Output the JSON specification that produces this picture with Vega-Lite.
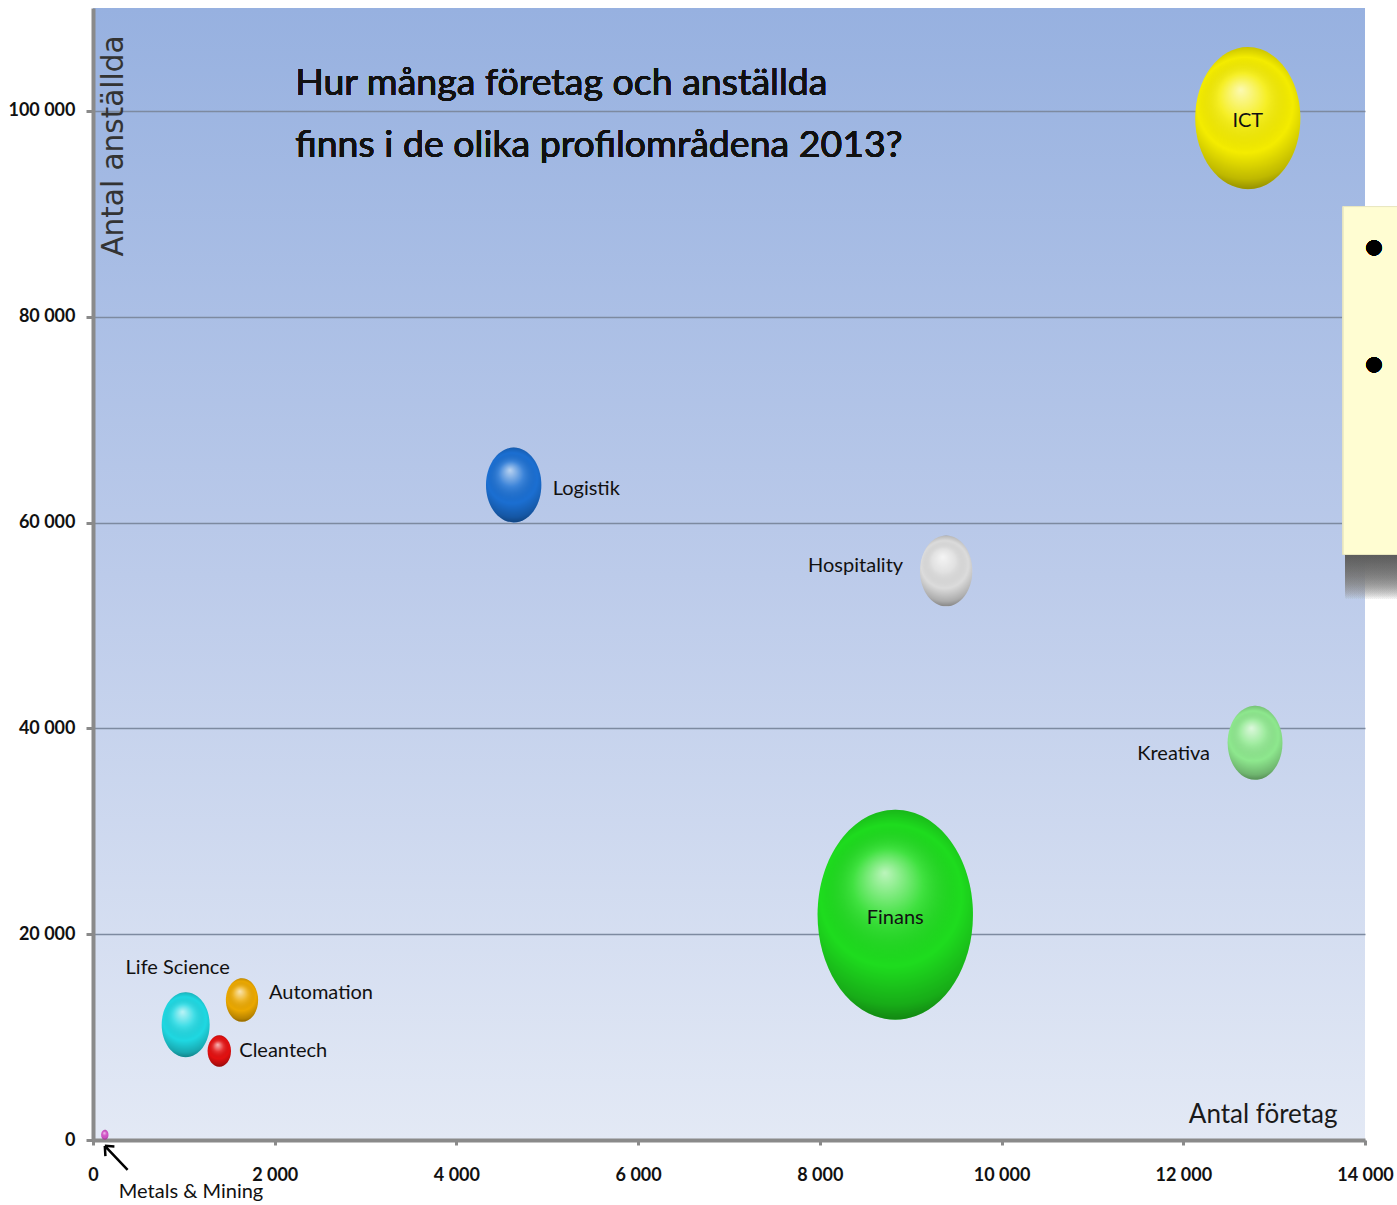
{
  "$schema": "https://vega.github.io/schema/vega-lite/v6.json",
  "width": 1272,
  "height": 1132,
  "autosize": "none",
  "padding": {"left": 93, "top": 8, "right": 32, "bottom": 65},
  "background": "white",
  "config": {
    "view": {
      "stroke": null,
      "fill": {
        "gradient": "linear",
        "x1": 0, "y1": 0, "x2": 0, "y2": 1,
        "stops": [
          {"offset": 0, "color": "#97b1e0"},
          {"offset": 0.5, "color": "#bccbea"},
          {"offset": 1, "color": "#e3e9f5"}
        ]
      }
    },
    "font": "Lato"
  },
  "data": {
    "values": [
      {"omrade": "ICT", "foretag": 12710, "anstallda": 99300, "storlek": 202},
      {"omrade": "Logistik", "foretag": 4630, "anstallda": 63650, "storlek": 56},
      {"omrade": "Hospitality", "foretag": 9390, "anstallda": 55300, "storlek": 50},
      {"omrade": "Kreativa", "foretag": 12790, "anstallda": 38600, "storlek": 55},
      {"omrade": "Finans", "foretag": 8830, "anstallda": 21900, "storlek": 441},
      {"omrade": "Life Science", "foretag": 1020, "anstallda": 11200, "storlek": 42},
      {"omrade": "Automation", "foretag": 1640, "anstallda": 13600, "storlek": 19},
      {"omrade": "Cleantech", "foretag": 1390, "anstallda": 8650, "storlek": 10},
      {"omrade": "Metals & Mining", "foretag": 130, "anstallda": 500, "storlek": 1}
    ]
  },
  "encoding": {
    "x": {
      "field": "foretag", "type": "quantitative",
      "scale": {"domain": [0, 14000], "nice": false, "zero": true},
      "axis": {
        "values": [0, 2000, 4000, 6000, 8000, 10000, 12000, 14000],
        "labelExpr": "replace(format(datum.value, ','), ',', ' ')",
        "grid": false,
        "domainColor": "#8a8a8a", "domainWidth": 4,
        "tickColor": "#8a8a8a", "tickWidth": 3, "tickSize": 5,
        "labelFont": "Lato", "labelFontSize": 18, "labelFontWeight": "bold",
        "labelColor": "#111111", "labelPadding": 21, "labelFlush": false,
        "title": "Antal företag",
        "titleFont": "Lato", "titleFontSize": 26, "titleFontWeight": "normal",
        "titleColor": "#1a1a1a", "titleAlign": "right", "titleBaseline": "alphabetic",
        "titleX": 1244, "titleY": -18
      }
    },
    "y": {
      "field": "anstallda", "type": "quantitative",
      "scale": {"domain": [0, 110000], "nice": false, "zero": true},
      "axis": {
        "values": [0, 20000, 40000, 60000, 80000, 100000],
        "labelExpr": "replace(format(datum.value, ','), ',', ' ')",
        "grid": true, "gridColor": "#7d8aa0", "gridWidth": 1.5,
        "domainColor": "#8a8a8a", "domainWidth": 4,
        "tickColor": "#8a8a8a", "tickWidth": 3, "tickSize": 7,
        "labelFont": "Lato", "labelFontSize": 18, "labelFontWeight": "bold",
        "labelColor": "#111111", "labelPadding": 11,
        "title": "Antal anställda",
        "titleFont": "DejaVu Sans", "titleFontSize": 29.5, "titleFontWeight": "normal",
        "titleColor": "#333333", "titleAngle": -90, "titleAlign": "right", "titleBaseline": "middle",
        "titleX": 20, "titleY": 27
      }
    }
  },
  "layer": [
    {
      "mark": {"type": "text", "font": "Lato", "fontSize": 37.5, "align": "left", "baseline": "alphabetic", "lineHeight": 62, "color": "#111111"},
      "encoding": {
        "x": {"datum": 2225, "type": "quantitative"},
        "y": {"datum": 101500, "type": "quantitative"},
        "text": {"value": ["Hur många företag och anställda", "finns i de olika profilområdena 2013?"]}
      }
    },
    {
      "mark": {
        "type": "point", "filled": true, "opacity": 1,
        "shape": "M -0.74 0 A 0.74 1 0 1 0 0.74 0 A 0.74 1 0 1 0 -0.74 0 Z"
      },
      "encoding": {
        "size": {"field": "storlek", "type": "quantitative", "scale": {"type": "linear", "domain": [0, 441], "range": [0, 44100], "zero": true}, "legend": null},
        "color": {
          "field": "omrade", "type": "nominal", "legend": null,
          "scale": {
            "domain": ["ICT", "Logistik", "Hospitality", "Kreativa", "Finans", "Life Science", "Automation", "Cleantech", "Metals & Mining"],
            "range": ["#f4ec00", "#1b6fd2", "#dcdcdc", "#8ee88e", "#1edc1e", "#1fd8e2", "#eba800", "#e31010", "#d453c8"]
          }
        }
      }
    },
    {
      "mark": {
        "type": "point", "filled": true, "opacity": 1,
        "shape": "M -0.74 0 A 0.74 1 0 1 0 0.74 0 A 0.74 1 0 1 0 -0.74 0 Z",
        "fill": {
          "gradient": "radial",
          "x1": 0.45, "y1": 0.3, "r1": 0,
          "x2": 0.5, "y2": 0.48, "r2": 0.56,
          "stops": [
            {"offset": 0, "color": "rgba(255,255,255,0.7)"},
            {"offset": 0.3, "color": "rgba(255,255,255,0.15)"},
            {"offset": 0.6, "color": "rgba(0,0,0,0)"},
            {"offset": 0.85, "color": "rgba(0,0,0,0.22)"},
            {"offset": 1, "color": "rgba(0,0,0,0.48)"}
          ]
        }
      },
      "encoding": {
        "size": {"field": "storlek", "type": "quantitative", "legend": null}
      }
    },
    {
      "transform": [{"filter": "datum.omrade === 'ICT' || datum.omrade === 'Finans'"}],
      "mark": {"type": "text", "fontSize": 20, "align": "center", "baseline": "middle", "dy": 3, "color": "#111111"},
      "encoding": {"text": {"field": "omrade"}}
    },
    {
      "transform": [{"filter": "datum.omrade === 'Logistik'"}],
      "mark": {"type": "text", "fontSize": 20, "align": "left", "baseline": "middle", "dx": 39, "dy": 4, "color": "#111111"},
      "encoding": {"text": {"field": "omrade"}}
    },
    {
      "transform": [{"filter": "datum.omrade === 'Automation'"}],
      "mark": {"type": "text", "fontSize": 20, "align": "left", "baseline": "middle", "dx": 27, "dy": -7, "color": "#111111"},
      "encoding": {"text": {"field": "omrade"}}
    },
    {
      "transform": [{"filter": "datum.omrade === 'Cleantech'"}],
      "mark": {"type": "text", "fontSize": 20, "align": "left", "baseline": "middle", "dx": 20, "dy": 0, "color": "#111111"},
      "encoding": {"text": {"field": "omrade"}}
    },
    {
      "transform": [{"filter": "datum.omrade === 'Hospitality'"}],
      "mark": {"type": "text", "fontSize": 20, "align": "right", "baseline": "middle", "dx": -43, "dy": -5, "color": "#111111"},
      "encoding": {"text": {"field": "omrade"}}
    },
    {
      "transform": [{"filter": "datum.omrade === 'Kreativa'"}],
      "mark": {"type": "text", "fontSize": 20, "align": "right", "baseline": "middle", "dx": -45, "dy": 11, "color": "#111111"},
      "encoding": {"text": {"field": "omrade"}}
    },
    {
      "transform": [{"filter": "datum.omrade === 'Life Science'"}],
      "mark": {"type": "text", "fontSize": 20, "align": "center", "baseline": "middle", "dx": -8, "dy": -57, "color": "#111111"},
      "encoding": {"text": {"field": "omrade"}}
    },
    {
      "transform": [{"filter": "datum.omrade === 'Metals & Mining'"}],
      "mark": {"type": "text", "fontSize": 20, "align": "left", "baseline": "middle", "dx": 14, "dy": 57, "color": "#111111"},
      "encoding": {"text": {"field": "omrade"}}
    },
    {
      "transform": [{"filter": "datum.omrade === 'Metals & Mining'"}],
      "mark": {
        "type": "point", "filled": false, "stroke": "#000000", "strokeWidth": 2.5, "opacity": 1,
        "shape": "M 0.9 1 L -1 -1 M -1 -1 L -0.95 -0.15 M -1 -1 L -0.2 -0.95",
        "size": 576, "xOffset": 12, "yOffset": 23
      },
      "encoding": {}
    },
    {
      "mark": {"type": "rect", "fill": {
        "gradient": "linear", "x1": 0, "y1": 0, "x2": 0, "y2": 1,
        "stops": [
          {"offset": 0, "color": "rgba(90,90,90,0.5)"},
          {"offset": 1, "color": "rgba(150,150,150,0)"}
        ]
      }},
      "encoding": {
        "x": {"datum": 13780, "type": "quantitative"},
        "x2": {"datum": 14500},
        "y": {"datum": 57000, "type": "quantitative"},
        "y2": {"datum": 52500}
      }
    },
    {
      "mark": {"type": "rect", "fill": "#fffdd2", "stroke": "#e8e6c0", "strokeWidth": 1},
      "encoding": {
        "x": {"datum": 13760, "type": "quantitative"},
        "x2": {"datum": 14500},
        "y": {"datum": 90700, "type": "quantitative"},
        "y2": {"datum": 56900}
      }
    },
    {
      "mark": {"type": "text", "text": "●", "font": "DejaVu Sans", "fontSize": 20, "align": "center", "baseline": "middle", "color": "#000000"},
      "encoding": {
        "x": {"datum": 14100, "type": "quantitative"},
        "y": {"datum": 86800, "type": "quantitative"}
      }
    },
    {
      "mark": {"type": "text", "text": "●", "font": "DejaVu Sans", "fontSize": 20, "align": "center", "baseline": "middle", "color": "#000000"},
      "encoding": {
        "x": {"datum": 14100, "type": "quantitative"},
        "y": {"datum": 75400, "type": "quantitative"}
      }
    }
  ]
}
